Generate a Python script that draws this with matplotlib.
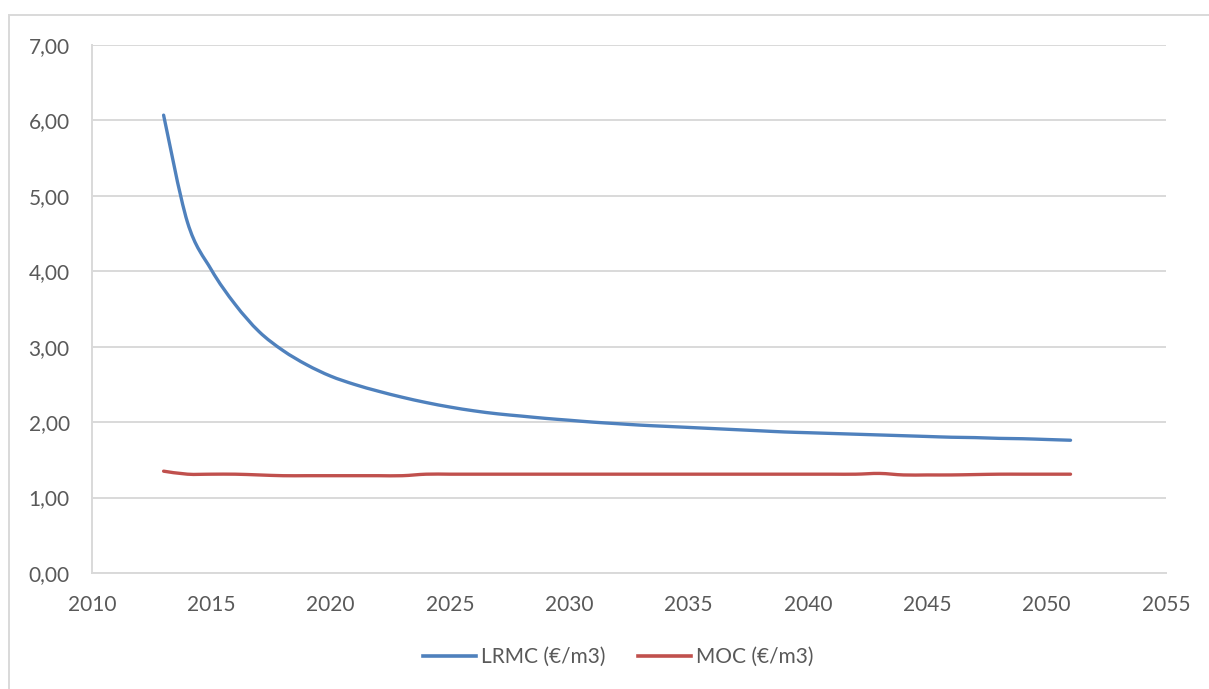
import numpy as np
import matplotlib
matplotlib.use("Agg")
import matplotlib.pyplot as plt
from matplotlib.patches import Rectangle, PathPatch
from matplotlib.path import Path
from matplotlib.lines import Line2D
from matplotlib.ticker import FuncFormatter

years = list(range(2013, 2052))

lrmc = [6.07, 4.65, 4.02, 3.56, 3.20, 2.95, 2.76, 2.61, 2.50, 2.41,
        2.33, 2.26, 2.20, 2.15, 2.11, 2.08, 2.05, 2.025, 2.00, 1.98,
        1.96, 1.945, 1.93, 1.915, 1.90, 1.885, 1.87, 1.86, 1.85, 1.84,
        1.83, 1.82, 1.81, 1.80, 1.795, 1.785, 1.78, 1.77, 1.76]

moc = [1.35, 1.31, 1.31, 1.31, 1.30, 1.29, 1.29, 1.29, 1.29, 1.29,
       1.29, 1.31, 1.31, 1.31, 1.31, 1.31, 1.31, 1.31, 1.31, 1.31,
       1.31, 1.31, 1.31, 1.31, 1.31, 1.31, 1.31, 1.31, 1.31, 1.31,
       1.32, 1.30, 1.30, 1.30, 1.305, 1.31, 1.31, 1.31, 1.31]

series_names = ["LRMC (€/m3)", "MOC (€/m3)"]
series_colors = ["#4F81BD", "#C0504D"]
x_ticks = list(range(2010, 2056, 5))
y_ticks = [0, 1, 2, 3, 4, 5, 6, 7]

plt.rcParams['font.family'] = ['Lato', 'DejaVu Sans']

grid_col = "#D9D9D9"
text_col = "#595959"


def smooth_path(xs, ys):
    # cubic bezier through every point, like a spreadsheet "smoothed line"
    pts = np.column_stack([xs, ys]).astype(float)
    n = len(pts)
    verts = [pts[0]]
    codes = [Path.MOVETO]
    for i in range(n - 1):
        p0 = pts[max(i - 1, 0)]
        p1 = pts[i]
        p2 = pts[i + 1]
        p3 = pts[min(i + 2, n - 1)]
        c1 = p1 + (p2 - p0) / 6.0
        c2 = p2 - (p3 - p1) / 6.0
        verts += [c1, c2, p2]
        codes += [Path.CURVE4] * 3
    return Path(verts, codes)


fig = plt.figure(figsize=(12.09, 6.89), dpi=100)
ax = fig.add_axes([92 / 1209, 116 / 689, 1074 / 1209, 528 / 689])

for vals, col in zip([lrmc, moc], series_colors):
    patch = PathPatch(smooth_path(years, vals), facecolor="none", edgecolor=col,
                      lw=2.4, capstyle="round", joinstyle="round", zorder=3)
    ax.add_patch(patch)

ax.set_xlim(2010, 2055)
ax.set_ylim(0, 7)
ax.set_xticks(x_ticks)
ax.set_yticks(y_ticks)
ax.yaxis.set_major_formatter(FuncFormatter(lambda v, p: f"{v:.2f}".replace(".", ",")))

ax.grid(axis="y", color=grid_col, lw=1.4)
ax.set_axisbelow(True)
for side in ["top", "right"]:
    ax.spines[side].set_visible(False)
for side in ["left", "bottom"]:
    ax.spines[side].set_color(grid_col)
    ax.spines[side].set_linewidth(1.4)

ax.tick_params(axis="both", length=0, labelsize=15, labelcolor=text_col)
ax.tick_params(axis="y", pad=16)
ax.tick_params(axis="x", pad=16)

handles = [Line2D([], [], color=c, lw=2.6) for c in series_colors]
fig.legend(handles, series_names, loc="center",
           bbox_to_anchor=(618 / 1209, 1 - 657 / 689), ncol=2,
           frameon=False, fontsize=15, labelcolor=text_col, handlelength=2.55,
           handletextpad=0.25, columnspacing=1.55)

# light frame around the chart area
fig.patches.append(Rectangle((9 / 1209, -0.05), 1.2, 1.05 - 15 / 689,
                             transform=fig.transFigure, fill=False,
                             edgecolor=grid_col, lw=1.4))

fig.savefig("out.png", dpi=100)
